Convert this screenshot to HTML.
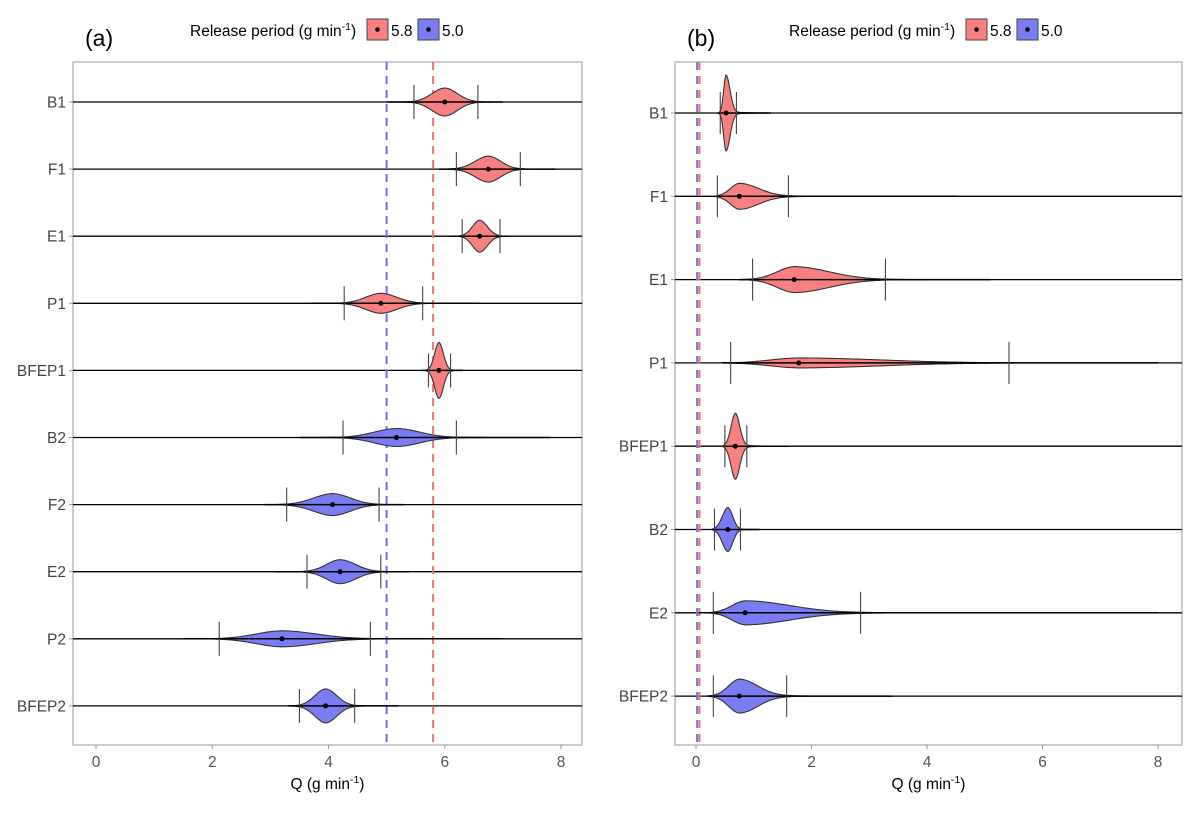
<!DOCTYPE html>
<html><head><meta charset="utf-8">
<style>
body{margin:0;background:#fff;font-family:"Liberation Sans",Arial,sans-serif;}
svg text{font-family:"Liberation Sans",Arial,sans-serif;}
</style></head>
<body>
<svg id="chart" width="1201" height="810" viewBox="0 0 1201 810" xmlns="http://www.w3.org/2000/svg"></svg>
<script>
// Panel (a) data
const catsA = ["B1","F1","E1","P1","BFEP1","B2","F2","E2","P2","BFEP2"];
const groupA = [1,1,1,1,1,2,2,2,2,2];
const centerA = [6.0,6.75,6.6,4.9,5.9,5.17,4.07,4.2,3.2,3.95];
const loA = [5.47,6.2,6.3,4.27,5.72,4.25,3.28,3.63,2.12,3.5];
const hiA = [6.57,7.3,6.95,5.62,6.1,6.2,4.87,4.9,4.72,4.45];
const minA = [5.0,5.9,6.1,3.7,5.6,3.5,2.9,3.1,1.5,3.3];
const maxA = [7.0,7.9,7.1,6.6,6.3,7.8,5.3,5.4,7.0,5.2];
const peakA = [14,13,16,10,28,9,11,12,8,17];
const refA = [5.0,5.8];
// Panel (b) data
const catsB = ["B1","F1","E1","P1","BFEP1","B2","E2","BFEP2"];
const groupB = [1,1,1,1,1,2,2,2];
const centerB = [0.52,0.75,1.7,1.78,0.68,0.55,0.85,0.75];
const loB = [0.42,0.37,0.98,0.6,0.5,0.32,0.3,0.3];
const hiB = [0.7,1.6,3.28,5.42,0.88,0.77,2.85,1.57];
const minB = [0.38,0.35,0.75,0.45,0.48,0.28,0.05,0.2];
const maxB = [1.3,4.5,5.1,8.0,1.6,1.1,8.0,3.4];
const peakB = [38,13,13,5,33,22,12,17];
const refB = [0.02,0.06];
const ticks = [0,2,4,6,8];

const NS="http://www.w3.org/2000/svg";
const svg=document.getElementById('chart');
function mk(tag,attrs,parent){const e=document.createElementNS(NS,tag);for(const k in attrs)e.setAttribute(k,attrs[k]);(parent||svg).appendChild(e);return e;}
const fills={1:"#f98080",2:"#7b7cf4"};

function panel(p){
  const g=mk('g',{});
  
  
  const xs=v=>p.x0+(v-0)*(p.x8-p.x0)/8;
  const ys=i=>p.rowStart+i*p.rowStep;
  const frame=mk('rect',{x:p.left,y:p.top,width:p.right-p.left,height:p.bottom-p.top,fill:'none',stroke:'#999','stroke-width':1},g);
  
  
  p.cats.forEach((c,i)=>{
    const l=mk('line',{x1:p.left,x2:p.right,y1:ys(i),y2:ys(i),stroke:'#000','stroke-width':1.3},g);
    
    
    mk('line',{x1:p.left-4,x2:p.left,y1:ys(i),y2:ys(i),stroke:'#999'},g);
    const t=mk('text',{x:p.left-7,y:ys(i)+5.5,'text-anchor':'end','font-size':15.5,fill:'#444'},g);
    t.textContent=c;
    
    
  });
  const cols=['#6f6ff5','#f07070'];
  p.ref.forEach((r,k)=>{
    const l=mk('line',{x1:xs(r),x2:xs(r),y1:p.top,y2:p.bottom,stroke:cols[k],'stroke-width':2,'stroke-dasharray':'8,6'},g);
    
    
  });
  p.cats.forEach((c,i)=>{
    const y=ys(i),cx=p.center[i],mn=p.min[i],mx=p.max[i],h=p.peak[i];
    const sl=(cx-p.lo[i])/2.4,sr=(p.hi[i]-cx)/2.6;
    const tl=(cx-mn)/4,tr=(mx-cx)/4;
    const top=[],bot=[];
    const N=160;
    for(let j=0;j<=N;j++){
      const v=mn+(mx-mn)*j/N;
      const s=v<cx?sl:sr, t=v<cx?tl:tr;
      const w=h*(0.95*Math.exp(-0.5*Math.pow((v-cx)/s,2))+0.05*Math.exp(-Math.abs(v-cx)/t));
      top.push(xs(v).toFixed(1)+','+(y-w).toFixed(1));
      bot.unshift(xs(v).toFixed(1)+','+(y+w).toFixed(1));
    }
    const path=mk('polygon',{points:top.concat(bot).join(' '),fill:fills[p.group[i]],stroke:'#333','stroke-width':1.1},g);
    
    
    const ln=mk('line',{x1:xs(mn),x2:xs(mx),y1:y,y2:y,stroke:'#000','stroke-width':1.5},g);
    
    
    [p.lo[i],p.hi[i]].forEach((v,k)=>{
      const t=mk('line',{x1:xs(v),x2:xs(v),y1:y-p.tickH,y2:y+p.tickH,stroke:'#444','stroke-width':1.1},g);
      
      
    });
    const d=mk('circle',{cx:xs(cx),cy:y,r:2.5,fill:'#000'},g);
    
    
  });
  ticks.forEach(t=>{
    const tk=mk('line',{x1:xs(t),x2:xs(t),y1:p.bottom,y2:p.bottom+4,stroke:'#999'},g);
    
    
    const tx=mk('text',{x:xs(t),y:p.bottom+22,'text-anchor':'middle','font-size':15.5,fill:'#555'},g);
    tx.textContent=t;
    
    
  });
  const xt=mk('text',{x:(p.left+p.right)/2,y:p.bottom+44,'text-anchor':'middle','font-size':15.5,fill:'#000'},g);
  xt.innerHTML='Q (g min<tspan dy="-6" font-size="10.5">-1</tspan><tspan dy="6">)</tspan>';
  
  
  const lab=mk('text',{x:p.left+12,y:46,'font-size':23,fill:'#000'},g);
  lab.textContent=p.label;
  
  
  const lg=mk('g',{},g);
  
  
  const lx=p.legX;
  const lt=mk('text',{x:lx,y:36,'font-size':15.5,fill:'#000'},lg);
  lt.innerHTML='Release period (g min<tspan dy="-6" font-size="10.5">-1</tspan><tspan dy="6">)</tspan>';
  
  
  [['5.8',1,lx+177],['5.0',2,lx+228]].forEach(([t,gr,x])=>{
    const r=mk('rect',{x:x,y:19,width:21,height:21,fill:fills[gr],stroke:'#444','stroke-width':1},lg);
    
    
    mk('circle',{cx:x+10.5,cy:29.5,r:2.3,fill:'#000'},lg);
    const tt=mk('text',{x:x+24,y:36,'font-size':15.5,fill:'#000'},lg);
    tt.textContent=t;
    
    
  });
}
panel({name:'panel-a',label:'(a)',left:73,right:582,top:62,bottom:745,x0:96,x8:561,rowStart:102,rowStep:67.1,
  cats:catsA,group:groupA,center:centerA,lo:loA,hi:hiA,min:minA,max:maxA,peak:peakA,ref:refA,tickH:17,legX:190});
panel({name:'panel-b',label:'(b)',left:675,right:1182,top:62,bottom:745,x0:696,x8:1158,rowStart:113,rowStep:83.3,
  cats:catsB,group:groupB,center:centerB,lo:loB,hi:hiB,min:minB,max:maxB,peak:peakB,ref:refB,tickH:21,legX:789});
</script>
</body></html>
